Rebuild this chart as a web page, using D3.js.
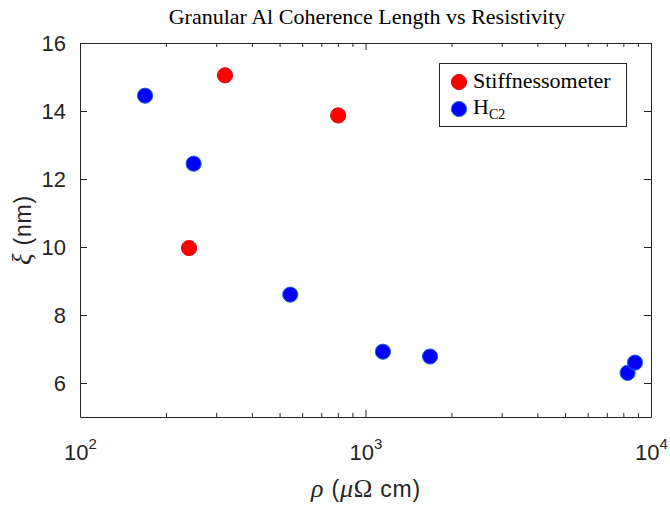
<!DOCTYPE html>
<html>
<head>
  <title>Granular Al Coherence Length vs Resistivity</title>
  <script src="https://d3js.org/d3.v7.min.js"></script>
  <style>
    body { margin: 0; background: #fff; }
    .axis path, .axis line { stroke: #262626; stroke-width: 1; }
    .axis text { font-family: "Liberation Sans", Arial, sans-serif; font-size: 22px; fill: #262626; }
  </style>
</head>
<body>
  <div id="chart"></div>
  <script>
    // data
    const stiffRho = [241, 322, 802];
    const stiffXi = [9.97, 15.05, 13.87];
    const hc2Rho = [169, 250, 545, 1151, 1683, 8280, 8790];
    const hc2Xi = [14.45, 12.45, 8.6, 6.92, 6.78, 6.3, 6.6];
    const xMajor = [100, 1000, 10000];
    const yTicks = [6, 8, 10, 12, 14, 16];

    const W = 670, H = 506;
    const plotL = 80, plotR = 651, plotT = 43, plotB = 417;

    const svg = d3.select("#chart").append("svg")
      .attr("width", W).attr("height", H);

    const x = d3.scaleLog().domain([100, 10000]).range([plotL, plotR]);
    const y = d3.scaleLinear().domain([5, 16]).range([plotB, plotT]);

    // minor ticks for log axis
    const xMinor = [];
    [100, 1000].forEach(d => { for (let k = 2; k <= 9; k++) xMinor.push(d * k); });

    // bottom axis (major with labels)
    const gx = svg.append("g").attr("class", "axis")
      .attr("transform", "translate(0," + plotB + ")")
      .call(d3.axisBottom(x).tickValues(xMajor).tickSize(-7).tickSizeOuter(0).tickPadding(27));
    gx.selectAll(".tick text").each(function(d) {
      const t = d3.select(this).text(null);
      t.append("tspan").text("10");
      t.append("tspan").attr("dy", "-11").style("font-size", "15px").text(Math.round(Math.log10(d)));
    });
    svg.append("g").attr("class", "axis")
      .attr("transform", "translate(0," + plotB + ")")
      .call(d3.axisBottom(x).tickValues(xMinor).tickSize(-4).tickSizeOuter(0).tickFormat(""))
      .select(".domain").remove();

    // top axis (no labels)
    svg.append("g").attr("class", "axis")
      .attr("transform", "translate(0," + plotT + ")")
      .call(d3.axisTop(x).tickValues(xMajor).tickSize(-7).tickSizeOuter(0).tickFormat(""));
    svg.append("g").attr("class", "axis")
      .attr("transform", "translate(0," + plotT + ")")
      .call(d3.axisTop(x).tickValues(xMinor).tickSize(-4).tickSizeOuter(0).tickFormat(""))
      .select(".domain").remove();

    // left and right axes
    svg.append("g").attr("class", "axis")
      .attr("transform", "translate(" + plotL + ",0)")
      .call(d3.axisLeft(y).tickValues(yTicks).tickSize(-7).tickSizeOuter(0).tickPadding(14));
    svg.append("g").attr("class", "axis")
      .attr("transform", "translate(" + plotR + ",0)")
      .call(d3.axisRight(y).tickValues(yTicks).tickSize(-7).tickSizeOuter(0).tickFormat(""));

    // points
    const stiff = stiffRho.map((r, i) => ({ r: r, v: stiffXi[i] }));
    const hc2 = hc2Rho.map((r, i) => ({ r: r, v: hc2Xi[i] }));

    svg.selectAll(".stiff").data(stiff).enter().append("circle")
      .attr("cx", d => x(d.r)).attr("cy", d => y(d.v)).attr("r", 7.6)
      .attr("fill", "#ff0000").attr("stroke", "#d01010").attr("stroke-width", 1);
    svg.selectAll(".hc2").data(hc2).enter().append("circle")
      .attr("cx", d => x(d.r)).attr("cy", d => y(d.v)).attr("r", 7.6)
      .attr("fill", "#0000ff").attr("stroke", "#1a6fd0").attr("stroke-width", 1);

    const serif = "'Liberation Serif', 'Times New Roman', serif";
    const sans = "'Liberation Sans', Arial, sans-serif";

    // title
    svg.append("text")
      .attr("x", 367).attr("y", 24)
      .attr("text-anchor", "middle")
      .style("font-family", serif)
      .style("font-size", "22px")
      .text("Granular Al Coherence Length vs Resistivity");

    // axis labels
    const xl = svg.append("text")
      .attr("x", 366).attr("y", 497)
      .attr("text-anchor", "middle")
      .style("font-family", sans)
      .style("font-size", "23px").style("letter-spacing", "0.8px").attr("fill", "#262626");
    xl.append("tspan").style("font-family", serif).style("font-style", "italic").style("font-size", "26px").text("ρ");
    xl.append("tspan").text(" (");
    xl.append("tspan").style("font-family", serif).style("font-style", "italic").style("font-size", "26px").text("μ");
    xl.append("tspan").style("font-family", serif).style("font-size", "25px").text("Ω");
    xl.append("tspan").text(" cm)");

    const yl = svg.append("text")
      .attr("transform", "translate(31,230) rotate(-90)")
      .attr("text-anchor", "middle")
      .style("font-family", sans)
      .style("font-size", "23px").style("letter-spacing", "0.8px").attr("fill", "#262626");
    yl.append("tspan").style("font-family", serif).style("font-style", "italic").style("font-size", "27px").text("ξ");
    yl.append("tspan").text(" (nm)");

    // legend
    const lg = svg.append("g");
    lg.append("rect").attr("x", 439.5).attr("y", 63.5).attr("width", 187).attr("height", 63)
      .attr("fill", "#fff").attr("stroke", "#262626").attr("stroke-width", 1);
    lg.append("circle").attr("cx", 459).attr("cy", 82).attr("r", 7.6)
      .attr("fill", "#ff0000").attr("stroke", "#d01010");
    lg.append("circle").attr("cx", 459).attr("cy", 109).attr("r", 7.6)
      .attr("fill", "#0000ff").attr("stroke", "#1a6fd0");
    lg.append("text").attr("x", 473).attr("y", 88)
      .style("font-family", serif).style("font-size", "22px")
      .text("Stiffnessometer");
    const h = lg.append("text").attr("x", 473).attr("y", 114)
      .style("font-family", serif).style("font-size", "22px");
    h.append("tspan").text("H");
    h.append("tspan").attr("dy", 5).style("font-size", "14px").text("C2");
  </script>
</body>
</html>
